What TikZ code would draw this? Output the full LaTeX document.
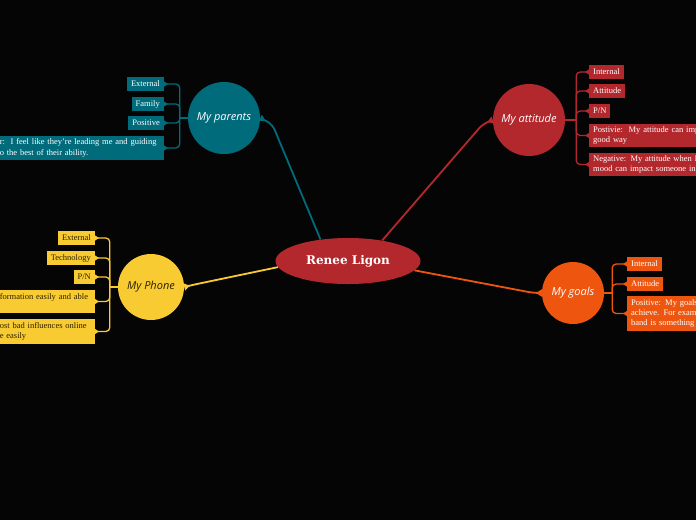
\documentclass[tikz,border=0pt]{standalone}
\usepackage{fontspec}
\setmainfont{Liberation Serif}
\newfontfamily\mmhand{Open Sans}
\newfontfamily\mmtitulo{DejaVu Serif}
\usetikzlibrary{arrows.meta,shapes.geometric,calc}
\definecolor{mmfundo}{HTML}{050505}
\definecolor{mmverm}{HTML}{B3282D}
\definecolor{mmpetroleo}{HTML}{006B7B}
\definecolor{mmamarelo}{HTML}{F9CB32}
\definecolor{mmlaranja}{HTML}{EE560F}
\definecolor{mmescuro}{HTML}{2B2200}
\tikzset{
  mmcentro/.style={ellipse, fill=mmverm, text=white, minimum width=145pt, minimum height=46pt,
                   inner sep=0pt, font=\mmtitulo\bfseries\fontsize{12}{14}\selectfont},
  mmtopico/.style={circle, minimum size=#1, inner sep=0pt, text=white,
                   font=\mmhand\itshape\fontsize{11}{13}\selectfont},
  mmcaixa/.style={fill=#1, text=white, inner xsep=4pt, inner ysep=3pt, minimum height=14pt,
                  align=left, font=\fontsize{8.5}{10.2}\selectfont},
  mmligacao/.style={draw=#1, line width=1.8pt, rounded corners=6pt,
                    -{Triangle[reversed, length=6pt, width=7pt]}},
  mmramo/.style={draw=#1, line width=1.3pt, rounded corners=4pt,
                 -{Triangle[reversed, length=4pt, width=5pt]}},
}

\begin{document}
\begin{tikzpicture}[x=1pt, y=-1pt]
    \useasboundingbox (0,0) rectangle (696,520);
    \clip (0,0) rectangle (696,520);
    \fill[mmfundo] (0,0) rectangle (696,520);
    % centro e topicos
    \node[mmcentro] (ctr) at (348,261) {Renee Ligon};
    \node[mmtopico=72pt, fill=mmpetroleo] (par) at (224,118) {My parents};
    \node[mmtopico=72pt, fill=mmverm] (att) at (529,120) {My attitude};
    \node[mmtopico=66pt, fill=mmamarelo, text=mmescuro] (pho) at (151,287) {My Phone};
    \node[mmtopico=62pt, fill=mmlaranja] (gol) at (573,293) {My goals};
    % My parents
    \node[mmcaixa=mmpetroleo, anchor=east] (p1) at (164,84) {External};
    \node[mmcaixa=mmpetroleo, anchor=east] (p2) at (164,104) {Family};
    \node[mmcaixa=mmpetroleo, anchor=east] (p3) at (164,123) {Positive};
    \node[mmcaixa=mmpetroleo, anchor=east, text width=160pt] (p4) at (164,148)
        {r:\ \ I feel like they're leading me and guiding\\o the best of their ability.};
    % My attitude
    \node[mmcaixa=mmverm, anchor=west] (a1) at (589,72) {Internal};
    \node[mmcaixa=mmverm, anchor=west] (a2) at (589,91) {Attitude};
    \node[mmcaixa=mmverm, anchor=west] (a3) at (589,111) {P/N};
    \node[mmcaixa=mmverm, anchor=west, text width=130pt] (a4) at (589,135.5)
        {Postivie:\ \ My attitude can imp\\good way};
    \node[mmcaixa=mmverm, anchor=west, text width=130pt] (a5) at (589,164.5)
        {Negative: My attitude when I\\mood can impact someone in};
    % My Phone
    \node[mmcaixa=mmamarelo, text=mmescuro, anchor=east] (f1) at (95,238) {External};
    \node[mmcaixa=mmamarelo, text=mmescuro, anchor=east] (f2) at (95,258) {Technology};
    \node[mmcaixa=mmamarelo, text=mmescuro, anchor=east] (f3) at (95,277) {P/N};
    \node[mmcaixa=mmamarelo, text=mmescuro, anchor=east, text width=91pt] (f4) at (95,301.5)
        {formation easily and able\\\mbox{}};
    \node[mmcaixa=mmamarelo, text=mmescuro, anchor=east, text width=91pt] (f5) at (95,331.5)
        {ost bad influences online\\e easily};
    % My goals
    \node[mmcaixa=mmlaranja, anchor=west] (g1) at (627,264) {Internal};
    \node[mmcaixa=mmlaranja, anchor=west] (g2) at (627,284) {Attitude};
    \node[mmcaixa=mmlaranja, anchor=west, text width=90pt] (g3) at (627,313.5)
        {Positive: My goals\\achieve. For exam\\band is something};
    % ligacoes do centro
    \draw[mmligacao=mmpetroleo] (ctr.142) -- ($(par.east)+(12,6)$) -- (par.east);
    \draw[mmligacao=mmverm] (ctr.31) -- ($(att.west)+(-10,4)$) -- (att.west);
    \draw[mmligacao=mmamarelo] (ctr.185) -- ($(pho.east)+(8,-2)$) -- (pho.east);
    \draw[mmligacao=mmlaranja] (ctr.352) -- ($(gol.west)+(-8,0)$) -- (gol.west);
    % ramos
    \coordinate (pj) at ($(par.west)+(-8,0)$);
    \coordinate (aj) at ($(att.east)+(11,0)$);
    \coordinate (fj) at ($(pho.west)+(-8,0)$);
    \coordinate (gj) at ($(gol.east)+(8,0)$);
    \draw[draw=mmpetroleo, line width=1.3pt] (par.west) -- (pj);
    \draw[draw=mmverm, line width=1.3pt] (att.east) -- (aj);
    \draw[draw=mmamarelo, line width=1.3pt] (pho.west) -- (fj);
    \draw[draw=mmlaranja, line width=1.3pt] (gol.east) -- (gj);
    \foreach \b in {p1,p2,p3,p4} \draw[mmramo=mmpetroleo] (pj) |- (\b.east);
    \foreach \b in {a1,a2,a3,a4,a5} \draw[mmramo=mmverm] (aj) |- (\b.west);
    \foreach \b in {f1,f2,f3,f4,f5} \draw[mmramo=mmamarelo] (fj) |- (\b.east);
    \foreach \b in {g1,g2,g3} \draw[mmramo=mmlaranja] (gj) |- (\b.west);
\end{tikzpicture}
\end{document}
